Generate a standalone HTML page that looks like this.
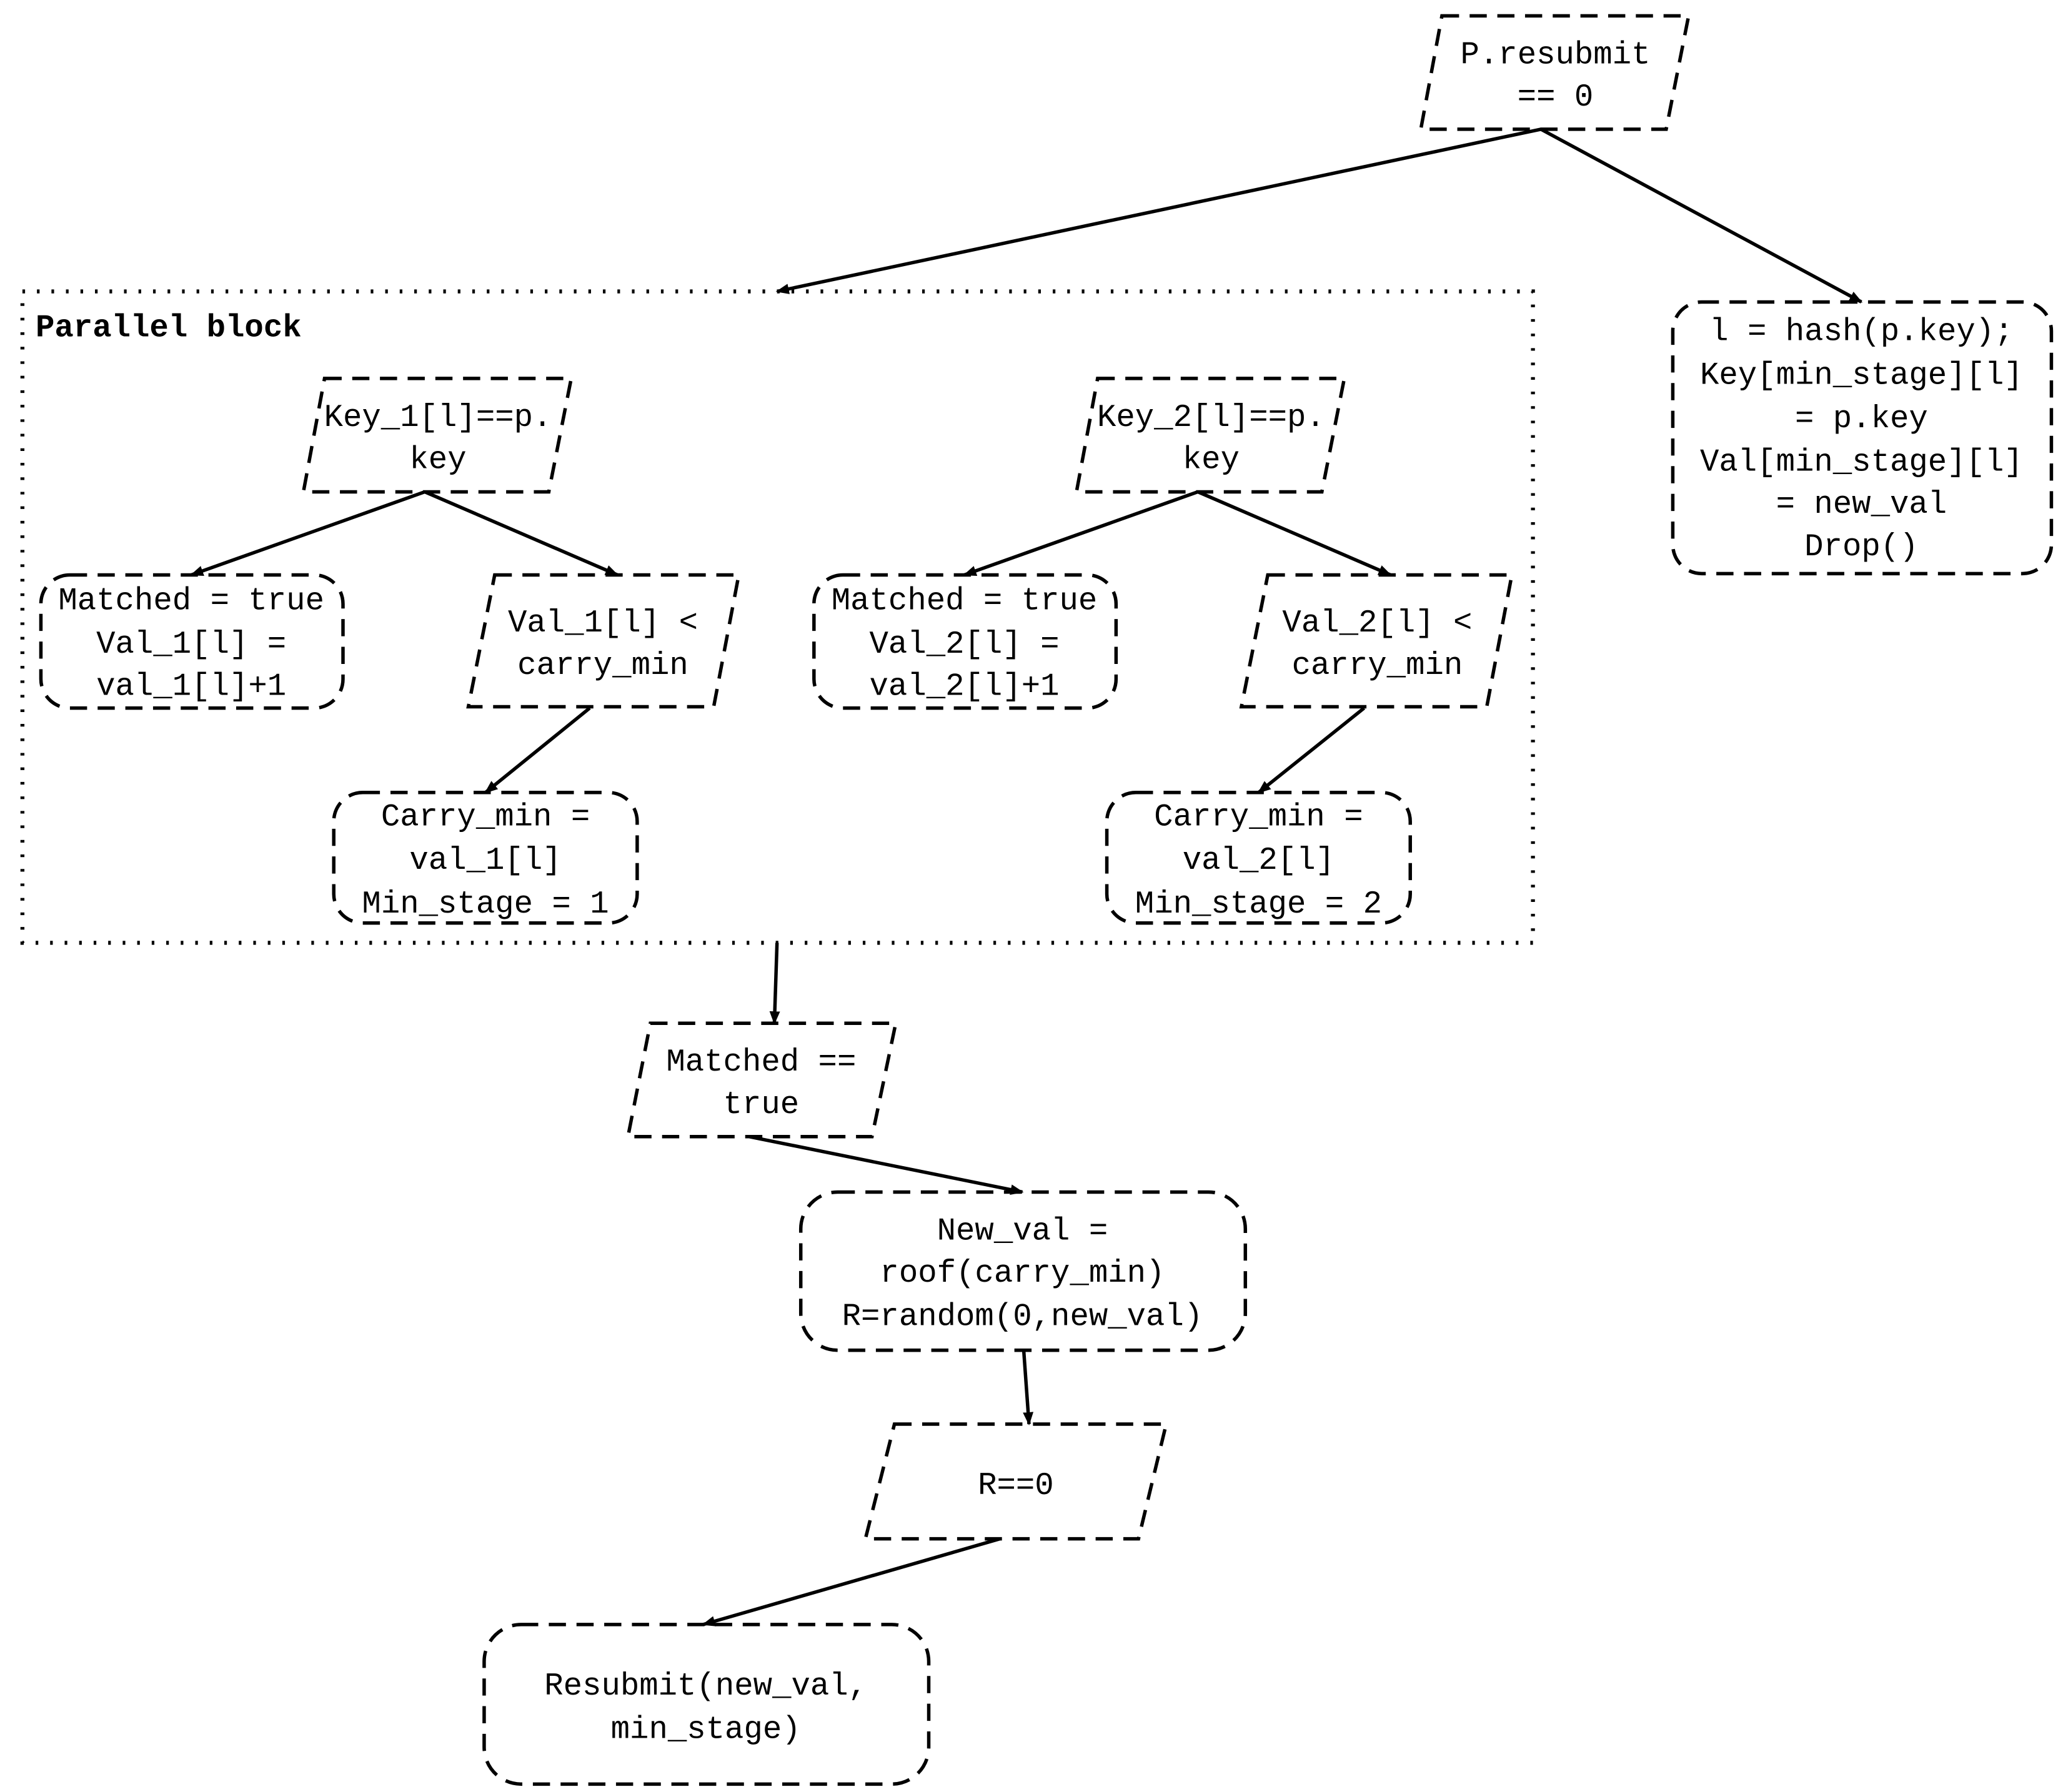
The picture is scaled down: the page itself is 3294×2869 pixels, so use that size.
<!DOCTYPE html>
<html><head><meta charset="utf-8"><style>
html,body{margin:0;padding:0;background:#fff;}
svg{display:block;}
text{font-family:"Liberation Mono",monospace;font-size:24px;fill:#000;text-anchor:middle;}
.s{fill:none;stroke:#000;stroke-width:2.6;stroke-dasharray:13 8;}
.a{stroke:#000;stroke-width:2.6;fill:none;}
</style></head><body>
<svg width="3294" height="2869" viewBox="0 0 1560 1359" preserveAspectRatio="none" xmlns="http://www.w3.org/2000/svg">
<defs><marker id="m" markerWidth="10" markerHeight="10" refX="9" refY="5" orient="auto" markerUnits="userSpaceOnUse"><path d="M0,1 L10,5 L0,9 z" fill="#000"/></marker></defs>
<rect x="0" y="0" width="1560" height="1359" fill="#fff"/>
<!-- parallel block -->
<rect x="17" y="221" width="1145" height="494" fill="none" stroke="#000" stroke-width="3" stroke-dasharray="2 9"/>
<text x="27" y="255" style="text-anchor:start;font-weight:bold">Parallel block</text>
<!-- parallelograms -->
<polygon class="s" points="1093,12 1280,12 1263,98 1077,98"/>
<text x="1179" y="48">P.resubmit</text><text x="1179" y="80">== 0</text>
<polygon class="s" points="246,287 433,287 416,373 230,373"/>
<text x="332" y="323">Key_1[l]==p.</text><text x="332" y="355">key</text>
<polygon class="s" points="832,287 1019,287 1002,373 816,373"/>
<text x="918" y="323">Key_2[l]==p.</text><text x="918" y="355">key</text>
<polygon class="s" points="375,436 560,436 541,536 355,536"/>
<text x="457" y="479">Val_1[l] &lt;</text><text x="457" y="511">carry_min</text>
<polygon class="s" points="961,436 1146,436 1127,536 941,536"/>
<text x="1044" y="479">Val_2[l] &lt;</text><text x="1044" y="511">carry_min</text>
<polygon class="s" points="493,776 679,776 661,862 476,862"/>
<text x="577" y="812">Matched ==</text><text x="577" y="844">true</text>
<polygon class="s" points="678,1080 884,1080 863,1167 656,1167"/>
<text x="770" y="1133">R==0</text>
<!-- rounded boxes -->
<rect class="s" x="1268" y="229" width="287" height="206" rx="22"/>
<text x="1411" y="258">l = hash(p.key);</text><text x="1411" y="291">Key[min_stage][l]</text><text x="1411" y="324">= p.key</text><text x="1411" y="357">Val[min_stage][l]</text><text x="1411" y="389">= new_val</text><text x="1411" y="421">Drop()</text>
<rect class="s" x="31" y="436" width="229" height="101" rx="22"/>
<text x="145" y="462">Matched = true</text><text x="145" y="495">Val_1[l] =</text><text x="145" y="527">val_1[l]+1</text>
<rect class="s" x="617" y="436" width="229" height="101" rx="22"/>
<text x="731" y="462">Matched = true</text><text x="731" y="495">Val_2[l] =</text><text x="731" y="527">val_2[l]+1</text>
<rect class="s" x="253" y="601" width="230" height="99" rx="22"/>
<text x="368" y="626">Carry_min =</text><text x="368" y="659">val_1[l]</text><text x="368" y="692">Min_stage = 1</text>
<rect class="s" x="839" y="601" width="230" height="99" rx="22"/>
<text x="954" y="626">Carry_min =</text><text x="954" y="659">val_2[l]</text><text x="954" y="692">Min_stage = 2</text>
<rect class="s" x="607" y="904" width="337" height="120" rx="28"/>
<text x="775" y="940">New_val =</text><text x="775" y="972">roof(carry_min)</text><text x="775" y="1005">R=random(0,new_val)</text>
<rect class="s" x="367" y="1232" width="337" height="121" rx="28"/>
<text x="535" y="1285">Resubmit(new_val,</text><text x="535" y="1318">min_stage)</text>
<!-- arrows -->
<line class="a" marker-end="url(#m)" x1="1168" y1="98" x2="589" y2="221"/>
<line class="a" marker-end="url(#m)" x1="1168" y1="98" x2="1411" y2="229"/>
<line class="a" marker-end="url(#m)" x1="322" y1="373" x2="145" y2="436"/>
<line class="a" marker-end="url(#m)" x1="322" y1="373" x2="468" y2="436"/>
<line class="a" marker-end="url(#m)" x1="908" y1="373" x2="731" y2="436"/>
<line class="a" marker-end="url(#m)" x1="908" y1="373" x2="1054" y2="436"/>
<line class="a" marker-end="url(#m)" x1="447" y1="537" x2="368" y2="601"/>
<line class="a" marker-end="url(#m)" x1="1034" y1="537" x2="954" y2="601"/>
<line class="a" marker-end="url(#m)" x1="589" y1="715" x2="587" y2="776"/>
<line class="a" marker-end="url(#m)" x1="568" y1="862" x2="775" y2="904"/>
<line class="a" marker-end="url(#m)" x1="776" y1="1024" x2="780" y2="1080"/>
<line class="a" marker-end="url(#m)" x1="758" y1="1167" x2="533" y2="1232"/>
</svg>
</body></html>
